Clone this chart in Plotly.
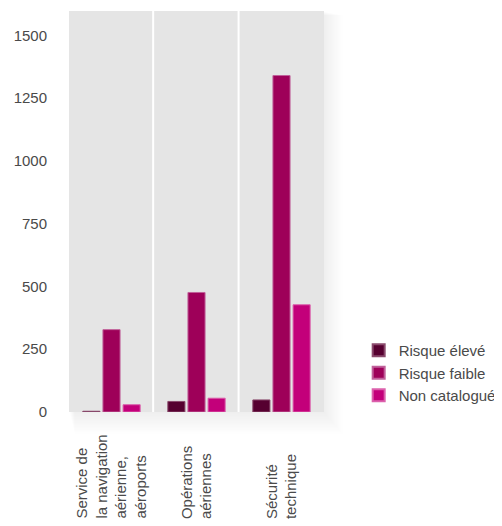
import plotly.graph_objects as go

categories = ["Service de la navigation aérienne, aéroports", "Opérations aériennes", "Sécurité technique"]
category_labels = ["Service de<br>la navigation<br>aérienne,<br>aéroports", "Opérations<br>aériennes", "Sécurité<br>technique"]
series_names = ["Risque élevé", "Risque faible", "Non catalogué"]
risque_eleve = [3, 42, 48]
risque_faible = [328, 476, 1340]
non_catalogue = [29, 55, 427]
y_ticks = [0, 250, 500, 750, 1000, 1250, 1500]

colors = ["#560030", "#9e0059", "#c3007a"]
line_colors = ["#8a4a6c", "#c0609a", "#dc60ac"]

fig = go.Figure()
xs = [0, 1, 2]
for name, vals, c, lc in zip(series_names, [risque_eleve, risque_faible, non_catalogue], colors, line_colors):
    fig.add_trace(go.Bar(x=xs, y=vals, name=name, marker=dict(color=c, line=dict(color=lc, width=1))))

FONT = "Liberation Sans, Arial, sans-serif"
TXT = "#4a4a4a"

shapes = []
# soft drop shadow under plot area (paper coords)
n = 16
for i in range(n):
    d = (i + 1) / n
    shapes.append(dict(type="rect", xref="paper", yref="paper", layer="below",
                       x0=0.0 + d * 0.02, x1=1.0 + d * 0.075, y0=-d * 0.055, y1=1.0 - d * 0.01,
                       line=dict(width=0), fillcolor="rgba(0,0,0,0.0045)"))
# plot background
shapes.append(dict(type="rect", xref="paper", yref="paper", layer="below",
                   x0=0, x1=1, y0=0, y1=1, line=dict(width=0), fillcolor="#e5e5e5"))
# white separators between facets
for xv in [0.49, 1.495]:
    shapes.append(dict(type="line", xref="x", yref="paper", x0=xv, x1=xv, y0=0, y1=1,
                       line=dict(color="white", width=2), layer="above"))

annotations = []
for i, lab in enumerate(category_labels):
    annotations.append(dict(x=i, xref="x", y=-0.272, yref="paper", text=lab, showarrow=False,
                            textangle=-90, xanchor="center", yanchor="bottom", align="left",
                            font=dict(family=FONT, size=15, color=TXT)))

fig.update_layout(
    width=502, height=518,
    margin=dict(l=61, r=186, t=3, b=114),
    paper_bgcolor="white", plot_bgcolor="rgba(0,0,0,0)",
    barmode="group", bargap=0.29, bargroupgap=0.15,
    font=dict(family=FONT, size=15, color=TXT),
    showlegend=True,
    legend=dict(x=1.136, xanchor="left", y=0.0, yanchor="bottom", bgcolor="rgba(0,0,0,0)",
                font=dict(family=FONT, size=15, color=TXT), itemsizing="constant"),
    shapes=shapes, annotations=annotations,
    xaxis=dict(range=[-0.5, 2.5], showticklabels=False, showgrid=False, zeroline=False,
               tickmode="array", tickvals=xs),
    yaxis=dict(range=[0, 1597], tickvals=y_ticks, showgrid=False, zeroline=False,
               ticks="outside", ticklen=18, tickcolor="rgba(0,0,0,0)",
               tickfont=dict(family=FONT, size=15, color=TXT)),
)

fig.write_html("out.html")
